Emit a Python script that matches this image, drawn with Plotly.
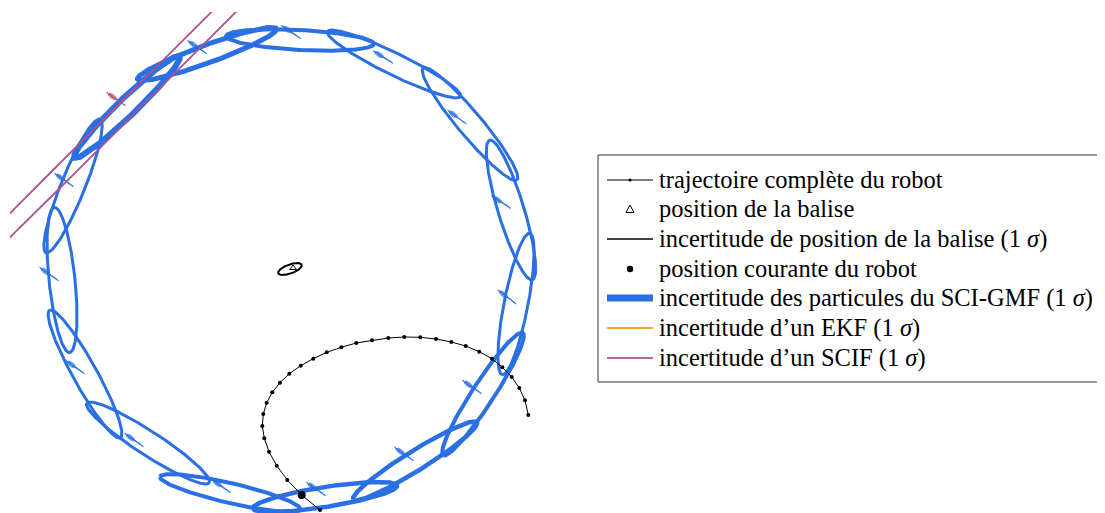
import numpy as np
import plotly.graph_objects as go

# everything is in the picture's pixel frame (x right, y down)

# robot trajectory
traj_x = [320.0, 301.7, 287.3, 276.7, 269.0, 264.3, 262.3, 263.3, 266.7, 272.3, 280.0,
          289.3, 300.7, 313.3, 326.7, 341.3, 356.3, 372.0, 388.3, 404.3, 420.3, 436.0,
          451.3, 465.7, 479.3, 492.0, 502.3, 511.7, 519.3, 525.0, 528.3]
traj_y = [510.0, 495.0, 480.0, 465.7, 451.7, 438.3, 426.0, 414.0, 402.7, 392.3, 382.7,
          373.7, 365.7, 358.7, 352.3, 347.3, 343.0, 340.3, 338.0, 337.0, 337.3, 339.0,
          342.0, 346.0, 351.7, 358.7, 367.3, 377.0, 388.0, 400.3, 415.0]
robot_x = [301.7]
robot_y = [495.0]

# beacon and its uncertainty ellipse
beacon_x = [293.0]
beacon_y = [268.0]
beacon_ell = (290.0, 269.0, 12.5, 4.5, -20.0)  # cx, cy, a, b, angle

# SCI-GMF particles: big ellipses
part_cx = [127, 207, 300, 394, 470, 511, 516, 483, 415, 325, 230, 148, 85, 62, 73]
part_cy = [107, 54, 40, 64, 124, 210, 304, 394, 461, 497, 493, 443, 374, 280, 186]
part_a = [73, 74, 74, 74, 73, 73, 72, 73, 73, 73, 72, 73, 73, 73, 72]
part_b = [9, 9, 10, 11, 12, 13, 12, 11, 10, 10, 10, 12, 12, 13, 12]
part_ang = [-44, -20, 3, 26, 50, 73, 101, 123, 148, 171, 193, 213, 241, 264, 292]
part_w = [6, 5, 4, 3, 3, 3, 3, 4, 4.5, 4.5, 4, 3, 3, 3, 3]

# small inner ellipses of the particles
small_cx = [116, 197, 291, 383, 457, 501, 507, 472, 404, 316, 221, 134, 75, 49, 64]
small_cy = [99, 47, 32, 57, 117, 202, 297, 387, 454, 489, 486, 440, 367, 274, 180]
small_ang = [35, 34, 34, 32, 36, 33, 37, 35, 35, 35, 35, 35, 35, 35, 35]

# SCIF ellipse (very elongated)
scif_ell = (118.0, 117.5, 1500.0, 8.8, -45.0)

legend_labels = [
    'trajectoire complète du robot',
    'position de la balise',
    'incertitude de position de la balise (1 <i>σ</i>)',
    'position courante du robot',
    'incertitude des particules du SCI-GMF (1 <i>σ</i>)',
    'incertitude d’un EKF (1 <i>σ</i>)',
    'incertitude d’un SCIF (1 <i>σ</i>)',
]

BLUE = '#2a6fe3'
MAGENTA = '#b0508f'
ORANGE = '#f5a030'

W, H = 1105, 513
OFF = 8  # page body margin


def px(x):
    return (x - OFF) / W


def py(y):
    return 1 - (y - OFF) / H


def ellipse(cx, cy, a, b, ang, n=240):
    t = np.linspace(0, 2 * np.pi, n)
    th = np.radians(ang)
    x = cx + a * np.cos(th) * np.cos(t) - b * np.sin(th) * np.sin(t)
    y = cy + a * np.sin(th) * np.cos(t) + b * np.cos(th) * np.sin(t)
    return x, y


fig = go.Figure()

for cx, cy, a, b, ang, w in zip(part_cx, part_cy, part_a, part_b, part_ang, part_w):
    x, y = ellipse(cx, cy, a, b, ang)
    fig.add_trace(go.Scatter(x=x, y=y, mode='lines', hoverinfo='skip',
                             line=dict(color=BLUE, width=w)))

for i, (cx, cy, ang) in enumerate(zip(small_cx, small_cy, small_ang)):
    col = MAGENTA if i == 0 else BLUE
    th = np.radians(ang)
    x, y = ellipse(cx, cy, 11.5, 0.5, ang)
    fig.add_trace(go.Scatter(x=x, y=y, mode='lines', hoverinfo='skip',
                             line=dict(color=col, width=1)))
    for k, bb in enumerate([2.2, 1.4, 0.8]):
        x, y = ellipse(cx - 4.5 * np.cos(th), cy - 4.5 * np.sin(th), 5.0 - k, bb, ang)
        fig.add_trace(go.Scatter(x=x, y=y, mode='lines', hoverinfo='skip',
                                 line=dict(color=col, width=0.7)))

x, y = ellipse(*scif_ell, n=4000)
fig.add_trace(go.Scatter(x=x, y=y, mode='lines', hoverinfo='skip',
                         line=dict(color=MAGENTA, width=1.8)))

fig.add_trace(go.Scatter(x=traj_x, y=traj_y, mode='lines+markers',
                         line=dict(color='black', width=1),
                         marker=dict(color='black', size=4)))
fig.add_trace(go.Scatter(x=beacon_x, y=beacon_y, mode='markers',
                         marker=dict(symbol='triangle-up-open', color='black', size=6,
                                     line=dict(width=1))))
x, y = ellipse(*beacon_ell)
fig.add_trace(go.Scatter(x=x, y=y, mode='lines', line=dict(color='black', width=2)))
fig.add_trace(go.Scatter(x=robot_x, y=robot_y, mode='markers',
                         marker=dict(color='black', size=8)))

# hand-made legend (paper coordinates)
shapes = [dict(type='rect', xref='paper', yref='paper',
               x0=px(598), x1=px(1102), y0=py(155), y1=py(382),
               line=dict(color='#333', width=1), fillcolor='white', layer='above')]
row_y = [180, 209, 239, 269, 298, 328, 358]
styles = [('black', 1), None, ('black', 1.5), None, (BLUE, 7), (ORANGE, 2), ('#b865a8', 2)]
for ry, st in zip(row_y, styles):
    if st is not None:
        shapes.append(dict(type='line', xref='paper', yref='paper', layer='above',
                           x0=px(607), x1=px(653), y0=py(ry), y1=py(ry),
                           line=dict(color=st[0], width=st[1])))
# dot on the trajectory sample and the current position dot
for ry, r in [(row_y[0], 1.6), (row_y[3], 3.2)]:
    shapes.append(dict(type='circle', xref='paper', yref='paper', layer='above',
                       x0=px(630 - r), x1=px(630 + r), y0=py(ry - r), y1=py(ry + r),
                       fillcolor='black', line=dict(width=0)))
# triangle of the beacon
ty = row_y[1]
shapes.append(dict(type='path', xref='paper', yref='paper', layer='above',
                   path=f'M {px(626)} {py(ty + 3.5)} L {px(634)} {py(ty + 3.5)} '
                        f'L {px(630)} {py(ty - 4)} Z',
                   line=dict(color='black', width=1)))

annotations = [dict(xref='paper', yref='paper', x=px(656.5), y=py(ry - 0.5), text=lab,
                    showarrow=False, xanchor='left', yanchor='middle',
                    font=dict(family='Liberation Serif', size=24.5, color='black'))
               for ry, lab in zip(row_y, legend_labels)]

fig.update_layout(
    width=W, height=H,
    margin=dict(l=0, r=0, t=0, b=0),
    plot_bgcolor='white', paper_bgcolor='white',
    showlegend=False,
    xaxis=dict(visible=False, domain=[px(10), px(600)], range=[10, 600]),
    yaxis=dict(visible=False, domain=[py(513), py(12)], range=[513, 12]),
    shapes=shapes,
    annotations=annotations,
)

fig.write_html("out.html")
